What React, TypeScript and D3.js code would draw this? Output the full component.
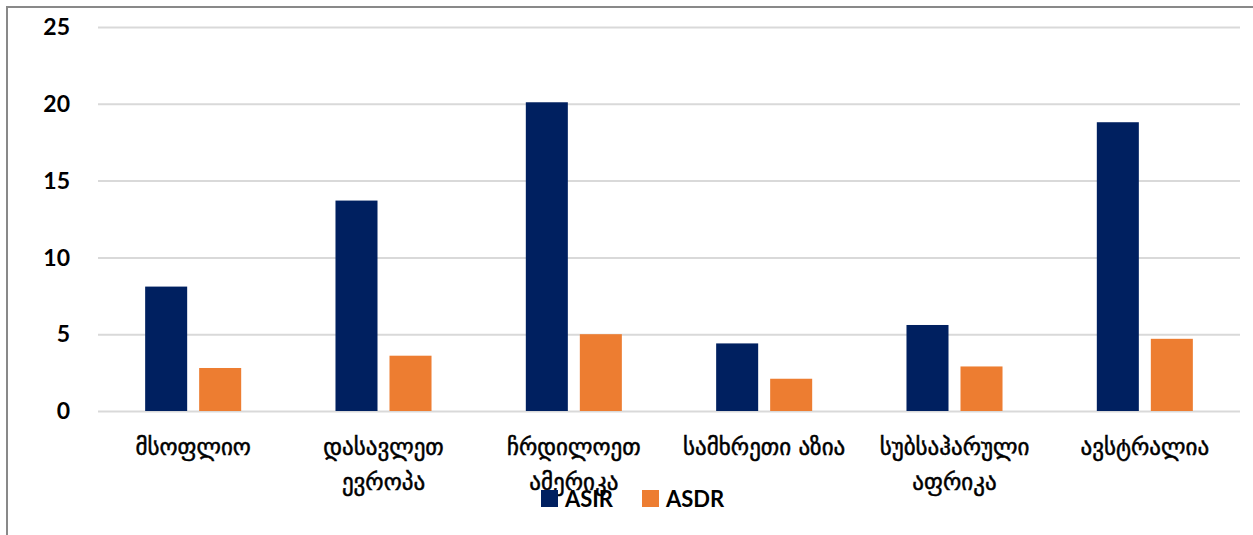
import { useEffect, useRef } from 'react';
import * as d3 from 'd3';

// region labels, split into the lines they wrap onto
const categories: string[][] = [
  ['მსოფლიო'],
  ['დასავლეთ', 'ევროპა'],
  ['ჩრდილოეთ', 'ამერიკა'],
  ['სამხრეთი აზია'],
  ['სუბსაჰარული', 'აფრიკა'],
  ['ავსტრალია'],
];
const seriesNames = ['ASIR', 'ASDR'];
const asir = [8.1, 13.7, 20.1, 4.4, 5.6, 18.8];
const asdr = [2.8, 3.6, 5.0, 2.1, 2.9, 4.7];
const yTicks = [0, 5, 10, 15, 20, 25];
const colors = ['#002060', '#ED7D31'];

export default function App() {
  const svgRef = useRef<SVGSVGElement>(null);

  useEffect(() => {
    if (!svgRef.current) return;
    const width = 1253;
    const height = 535;
    const svg = d3.select(svgRef.current);
    svg.selectAll('*').remove();

    const left = 98;
    const right = 1240;
    const top = 27;
    const bottom = 411;

    // outer frame (only left and top edges are visible in the picture)
    svg.append('rect')
      .attr('x', 7).attr('y', 7)
      .attr('width', width + 20).attr('height', height + 20)
      .attr('fill', 'none')
      .attr('stroke', '#898989')
      .attr('stroke-width', 2);

    const y = d3.scaleLinear().domain([0, 25]).range([bottom, top]);
    const x0 = d3.scaleBand<number>()
      .domain(d3.range(categories.length))
      .range([left, right]);
    const x1 = d3.scaleBand<number>()
      .domain([0, 1])
      .range([0, x0.bandwidth()])
      .paddingInner(0.222)
      .paddingOuter(0.873);

    // gridlines
    svg.append('g')
      .selectAll('line')
      .data(yTicks)
      .join('line')
      .attr('x1', left).attr('x2', right)
      .attr('y1', d => y(d) + 0.5).attr('y2', d => y(d) + 0.5)
      .attr('stroke', '#d9d9d9')
      .attr('stroke-width', 2);

    // y labels
    svg.append('g')
      .selectAll('text')
      .data(yTicks)
      .join('text')
      .attr('x', 70)
      .attr('y', d => y(d))
      .attr('dy', '0.36em')
      .attr('text-anchor', 'end')
      .style('font-family', 'Lato, "Open Sans", sans-serif')
      .style('font-weight', 'bold')
      .style('font-size', '23px')
      .style('fill', '#000')
      .text(d => d);

    const series = [asir, asdr];
    const groups = svg.append('g')
      .selectAll('g')
      .data(categories.map((_, i) => i))
      .join('g')
      .attr('transform', i => `translate(${x0(i)},0)`);

    groups.selectAll('rect')
      .data(i => series.map((s, k) => ({ k, v: s[i] })))
      .join('rect')
      .attr('x', d => x1(d.k)!)
      .attr('width', x1.bandwidth())
      .attr('y', d => y(d.v))
      .attr('height', d => bottom - y(d.v))
      .attr('fill', d => colors[d.k]);

    // category labels
    const labels = svg.append('g')
      .selectAll('text')
      .data(categories)
      .join('text')
      .attr('x', (_, i) => x0(i)! + x0.bandwidth() / 2)
      .attr('y', 455)
      .attr('text-anchor', 'middle')
      .style('font-family', '"DejaVu Sans", sans-serif')
      .style('font-size', '23px')
      .style('fill', '#000')
      .style('stroke', '#000')
      .style('stroke-width', '0.5px');
    labels.selectAll('tspan')
      .data(d => d)
      .join('tspan')
      .attr('x', function () {
        return (this.parentNode as SVGTextElement).getAttribute('x');
      })
      .attr('dy', (_, j) => (j === 0 ? 0 : 35))
      .text(d => d);

    // legend
    const legendX = [541, 642];
    const legend = svg.append('g')
      .selectAll('g')
      .data(seriesNames)
      .join('g')
      .attr('transform', (_, i) => `translate(${legendX[i]},490)`);
    legend.append('rect')
      .attr('width', 17).attr('height', 17)
      .attr('fill', (_, i) => colors[i]);
    legend.append('text')
      .attr('x', 24)
      .attr('y', 17)
      .style('font-family', 'Lato, "Open Sans", sans-serif')
      .style('font-weight', 'bold')
      .style('font-size', '22px')
      .style('fill', '#000')
      .text(d => d);
  }, []);

  return (
    <svg
      ref={svgRef}
      width={1253}
      height={535}
      viewBox="0 0 1253 535"
      style={{ position: 'fixed', left: 0, top: 0, background: '#fff' }}
    />
  );
}
